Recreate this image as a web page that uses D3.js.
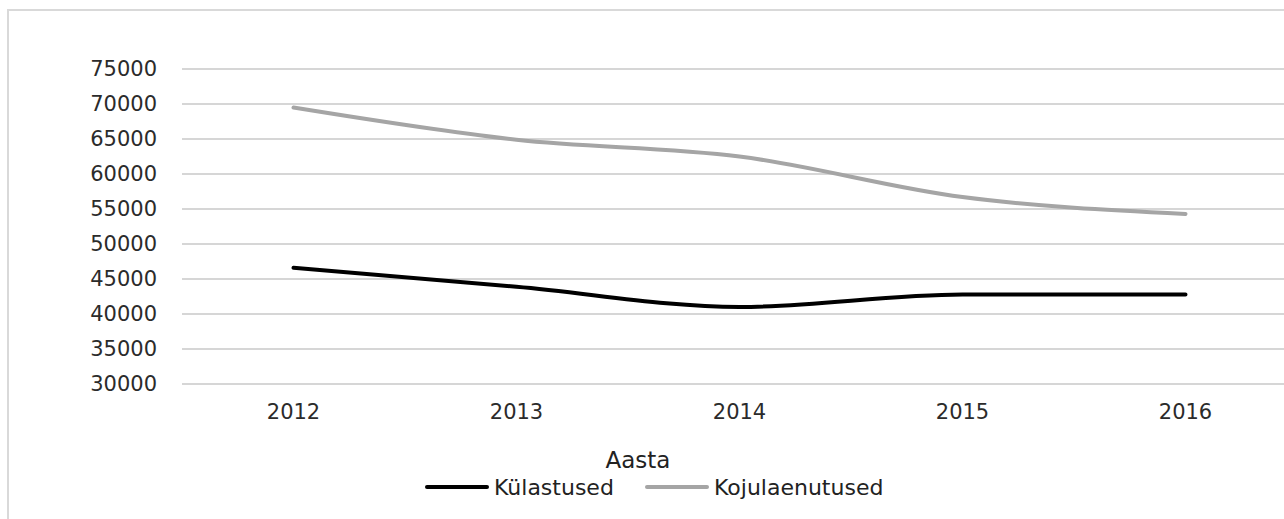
<!DOCTYPE html>
<html>
<head>
<meta charset="utf-8">
<script src="https://cdn.jsdelivr.net/npm/d3@7"></script>
<style>
  body { margin: 0; background: #fff; }
  svg { display: block; font-family: "DejaVu Sans", sans-serif; }
</style>
</head>
<body>
<svg id="chart" width="1284" height="519"></svg>
<script>
// data
const years = ["2012", "2013", "2014", "2015", "2016"]
const kylastused = [46600, 43900, 41000, 42800, 42800]
const kojulaenutused = [69500, 64900, 62500, 56700, 54300]
const yTicks = [30000, 35000, 40000, 45000, 50000, 55000, 60000, 65000, 70000, 75000]

const svg = d3.select("#chart")

// outer chart border (runs off the right/bottom edge)
svg.append("rect")
    .attr("x", 8).attr("y", 10)
    .attr("width", 1300).attr("height", 530)
    .attr("fill", "none")
    .attr("stroke", "#d9d9d9")
    .attr("stroke-width", 2)

const x = d3.scaleBand()
    .domain(years)
    .range([182, 1297])

const y = d3.scaleLinear()
    .domain([30000, 75000])
    .range([384, 69])

// gridlines
svg.append("g")
    .selectAll("line")
    .data(yTicks)
    .enter()
    .append("line")
    .attr("x1", 182)
    .attr("x2", 1284)
    .attr("y1", d => y(d))
    .attr("y2", d => y(d))
    .attr("stroke", "#c9c9c9")
    .attr("stroke-width", 1.6)

// y axis labels
const yAxis = svg.append("g")
    .attr("transform", "translate(182,0)")
    .call(d3.axisLeft(y).tickValues(yTicks).tickSize(0).tickPadding(25).tickFormat(d3.format("d")))
yAxis.select(".domain").remove()
yAxis.selectAll("text")
    .style("font-size", "21px")
    .style("font-family", "DejaVu Sans")
    .attr("fill", "#2b2b2b")

// x axis labels
const xAxis = svg.append("g")
    .attr("transform", "translate(0,384)")
    .call(d3.axisBottom(x).tickSize(0).tickPadding(20))
xAxis.select(".domain").remove()
xAxis.selectAll("text")
    .style("font-size", "21px")
    .style("font-family", "DejaVu Sans")
    .attr("fill", "#2b2b2b")

const line = d3.line()
    .x((d, i) => x(years[i]) + x.bandwidth() / 2)
    .y(d => y(d))
    .curve(d3.curveMonotoneX)

svg.append("path")
    .datum(kojulaenutused)
    .attr("d", line)
    .attr("fill", "none")
    .attr("stroke", "#a5a5a5")
    .attr("stroke-width", 4)
    .attr("stroke-linecap", "round")

svg.append("path")
    .datum(kylastused)
    .attr("d", line)
    .attr("fill", "none")
    .attr("stroke", "#000")
    .attr("stroke-width", 4)
    .attr("stroke-linecap", "round")

// axis title
svg.append("text")
    .attr("x", 638)
    .attr("y", 468)
    .attr("text-anchor", "middle")
    .style("font-size", "23px")
    .attr("fill", "#222")
    .text("Aasta")

// legend
const legend = [
    {name: "Külastused", color: "#000", x: 427},
    {name: "Kojulaenutused", color: "#a5a5a5", x: 647}
]
const lg = svg.append("g").selectAll("g").data(legend).enter().append("g")
lg.append("line")
    .attr("x1", d => d.x).attr("x2", d => d.x + 60)
    .attr("y1", 487).attr("y2", 487)
    .attr("stroke", d => d.color)
    .attr("stroke-width", 4)
    .attr("stroke-linecap", "round")
lg.append("text")
    .attr("x", d => d.x + 67)
    .attr("y", 495)
    .style("font-size", "22px")
    .attr("fill", "#222")
    .text(d => d.name)
</script>
</body>
</html>
